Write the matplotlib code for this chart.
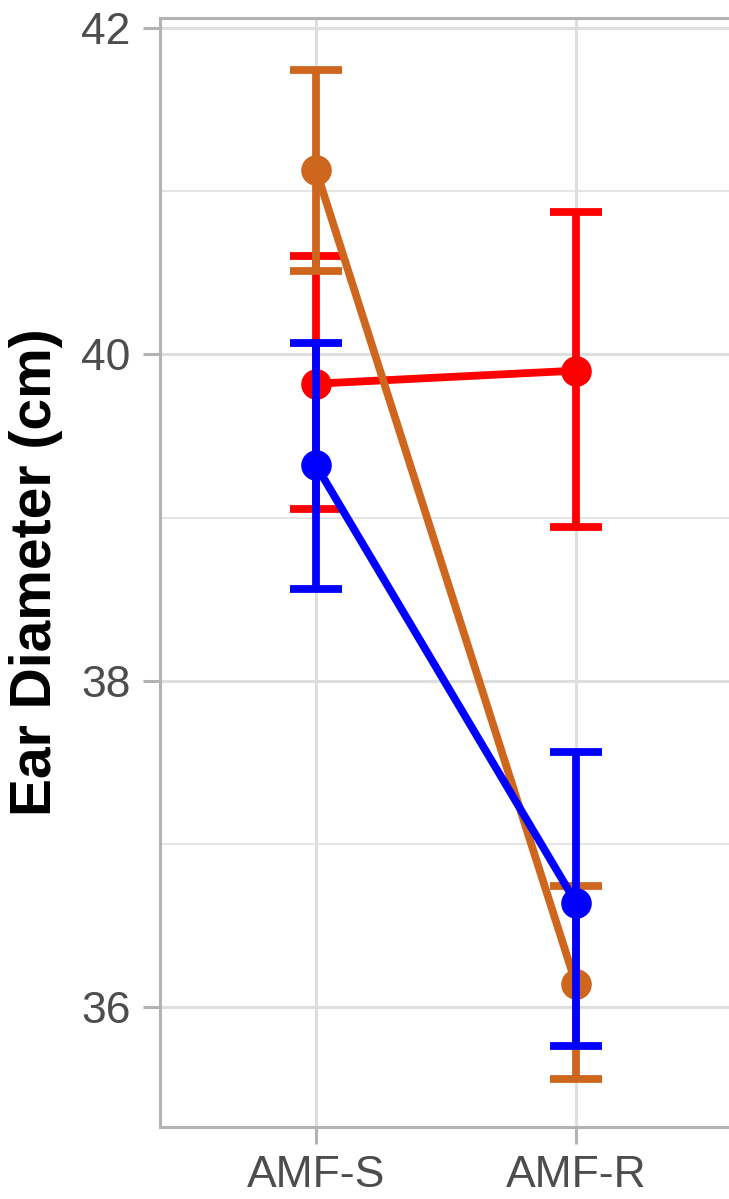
import matplotlib
matplotlib.use("Agg")
import matplotlib.pyplot as plt
from matplotlib.ticker import MultipleLocator

categories = ["AMF-S", "AMF-R"]
series_names = ["red", "orange", "blue"]
red_mean = [39.82, 39.90]
red_low = [39.05, 38.94]
red_high = [40.60, 40.87]
orange_mean = [41.13, 36.14]
orange_low = [40.51, 35.56]
orange_high = [41.74, 36.74]
blue_mean = [39.32, 36.64]
blue_low = [38.56, 35.76]
blue_high = [40.07, 37.56]
colors = ["#FF0000", "#CF661E", "#0000FF"]

plt.rcParams['font.family'] = ['Liberation Sans', 'DejaVu Sans']

fig = plt.figure(figsize=(7.29, 11.99), dpi=100)
ax = fig.add_axes([160/729, 1 - 1127/1199, 572/729, (1127 - 18)/1199])

x = list(range(1, len(categories) + 1))
data = [(red_mean, red_low, red_high), (orange_mean, orange_low, orange_high),
        (blue_mean, blue_low, blue_high)]
for i, ((m, lo, hi), c) in enumerate(zip(data, colors)):
    yerr = [[mm - l for mm, l in zip(m, lo)], [h - mm for mm, h in zip(m, hi)]]
    ax.plot(x, m, color=c, lw=5.6, marker='o', ms=21, zorder=3 + i * 0.1,
            solid_capstyle='butt')
    ax.errorbar(x, m, yerr=yerr, fmt='none', ecolor=c, elinewidth=5.6,
                capsize=18.7, capthick=5.6, zorder=3.05 + i * 0.1)

ax.set_xlim(0.4, 2.6)
ax.set_ylim(35.265, 42.061)
ax.set_xticks(x)
ax.set_xticklabels(categories)
ax.yaxis.set_major_locator(MultipleLocator(2))
ax.yaxis.set_minor_locator(MultipleLocator(1))

ax.grid(which='major', color='#DEDEDE', lw=2.2, zorder=0)
ax.grid(which='minor', axis='y', color='#DEDEDE', lw=1.1, zorder=0)
ax.set_axisbelow(True)
for s in ax.spines.values():
    s.set_color('#B3B3B3')
    s.set_linewidth(2.2)

ax.tick_params(axis='both', which='major', length=12, width=2.2, color='#B3B3B3',
               labelsize=32, labelcolor='#4D4D4D')
ax.tick_params(axis='y', which='major', pad=9)
ax.tick_params(axis='x', which='major', pad=8)
ax.tick_params(axis='y', which='minor', length=0)
ax.set_ylabel("Ear Diameter (cm)", fontsize=41, fontweight='bold', color='black',
              labelpad=13)

fig.savefig("out.png", dpi=100)
